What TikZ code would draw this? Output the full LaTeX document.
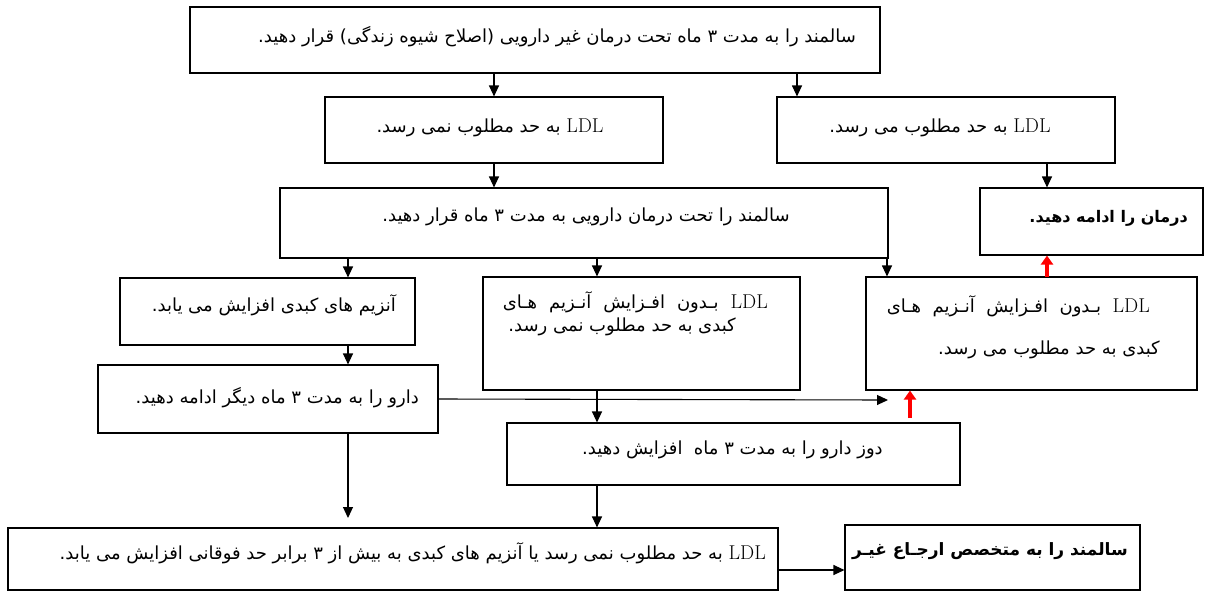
\documentclass[tikz,border=0pt]{standalone}
\usepackage{fontspec}
\usetikzlibrary{arrows.meta}
\TeXXeTstate=1
\newfontfamily\fafont[Script=Arabic]{DejaVu Sans}
\newcommand\fa[1]{{\fafont\beginR #1\endR}}
% a line spread to a given width; the text itself carries \beginR ... \endR
\newcommand\faj[2]{\hbox to #1{\fafont\spaceskip=0.25em plus 1fil #2}}
\newcommand\ldl{\beginL{\rmfamily\fontsize{20}{22}\selectfont LDL}\endL}

\tikzset{
  box/.style={draw, line width=1.1pt, rectangle, inner sep=0pt},
  txt/.style={inner sep=0pt, font=\fafont\fontsize{18}{21}\selectfont},
  btxt/.style={txt, font=\fafont\bfseries\fontsize{17}{20}\selectfont},
  arr/.style={line width=1.1pt, -{Triangle[length=11pt,width=10pt]}},
  redarr/.style={red, line width=3.5pt, -{Triangle[length=9pt,width=12pt]}}
}

\begin{document}
\begin{tikzpicture}[x=1pt,y=-1pt]
\useasboundingbox (0,0) rectangle (1207,592);

% boxes
\node[box, minimum width=690pt, minimum height=66pt] (top)  at (535,40) {};
\node[box, minimum width=338pt, minimum height=66pt] (nok)  at (494,130) {};
\node[box, minimum width=338pt, minimum height=66pt] (ok)   at (946,130) {};
\node[box, minimum width=608pt, minimum height=70pt] (drug) at (584,223) {};
\node[box, minimum width=223pt, minimum height=67pt] (cont) at (1091.5,221.5) {};
\node[box, minimum width=295pt, minimum height=67pt] (enz)  at (267.5,311.5) {};
\node[box, minimum width=317pt, minimum height=113pt] (mid) at (641.5,333.5) {};
\node[box, minimum width=331pt, minimum height=113pt] (good) at (1031.5,333.5) {};
\node[box, minimum width=340pt, minimum height=68pt] (more) at (268,399) {};
\node[box, minimum width=453pt, minimum height=62pt] (dose) at (733.5,454) {};
\node[box, minimum width=770pt, minimum height=62pt] (fail) at (393,559) {};
\node[box, minimum width=295pt, minimum height=65pt] (ref)  at (992.5,557.5) {};

% texts
\node[txt, anchor=east] (ttop) at (856,37) {\fa{سالمند را به مدت ۳ ماه تحت درمان غیر دارویی (اصلاح شیوه زندگی) قرار دهید.}};
\node[txt] (tnok) at (490,128) {\fa{\ldl{} به حد مطلوب نمی رسد.}};
\node[txt] (tok) at (940,128) {\fa{\ldl{} به حد مطلوب می رسد.}};
\node[txt] (tdrug) at (586,217) {\fa{سالمند را تحت درمان دارویی به مدت ۳ ماه قرار دهید.}};
\node[btxt, anchor=east, font=\fafont\bfseries\fontsize{16}{19}\selectfont] (tcont) at (1188,218) {\fa{درمان را ادامه دهید.}};
\node[txt, anchor=east] (tenz) at (396,305) {\fa{آنزیم های کبدی افزایش می یابد.}};
\node[txt, anchor=east] (tmida) at (768,302) {\faj{265pt}{\beginR \ldl{} بـدون افـزایش آنـزیم هـای\endR}};
\node[txt, anchor=east] (tmidb) at (736,327) {\fa{کبدی به حد مطلوب نمی رسد.}};
\node[txt, anchor=east] (tgooda) at (1150,306) {\faj{263pt}{\beginR \ldl{} بـدون افـزایش آنـزیم هـای\endR}};
\node[txt, anchor=east] (tgoodb) at (1160,350) {\fa{کبدی به حد مطلوب می رسد.}};
\node[txt, anchor=east] (tmore) at (419,398) {\fa{دارو را به مدت ۳ ماه دیگر ادامه دهید.}};
\node[txt, anchor=west] (tdose) at (582,450) {\fa{دوز دارو را به مدت ۳ ماه\ \ افزایش دهید.}};
\node[txt, anchor=east] (tfail) at (766,553) {\fa{\ldl{} به حد مطلوب نمی رسد یا آنزیم های کبدی به بیش از ۳ برابر حد فوقانی افزایش می یابد.}};
\node[btxt, anchor=east] (tref) at (1128,551) {\fa{سالمند را به متخصص ارجـاع غیـر}};

% free ends
\coordinate (sideend) at (888,400);
\coordinate (redstart) at (910,418);

% connectors
\draw[arr] (top.south -| nok.north) -- (nok.north);
\draw[arr] (797,73) -- (797,0 |- ok.north);
\draw[arr] (nok.south) -- (nok.south |- drug.north);
\draw[arr] (1047,163) -- (1047,0 |- cont.north);
\draw[arr] (348,258) -- (348,0 |- enz.north);
\draw[arr] (597,258) -- (597,0 |- mid.north);
\draw[arr] (887,258) -- (887,0 |- good.north);
\draw[arr] (348,345) -- (348,0 |- more.north);
\draw[arr] (more.east) -- (sideend);
\draw[arr] (597,390) -- (597,0 |- dose.north);
\draw[arr] (348,433) -- (348,518);
\draw[arr] (597,485) -- (597,0 |- fail.north);
\draw[arr] ([yshift=-11pt]fail.east) -- ([yshift=-11pt]fail.east -| ref.west);
\draw[redarr] (1047,277) -- (1047,0 |- cont.south);
\draw[redarr] (redstart) -- (redstart |- good.south);
\end{tikzpicture}
\end{document}
